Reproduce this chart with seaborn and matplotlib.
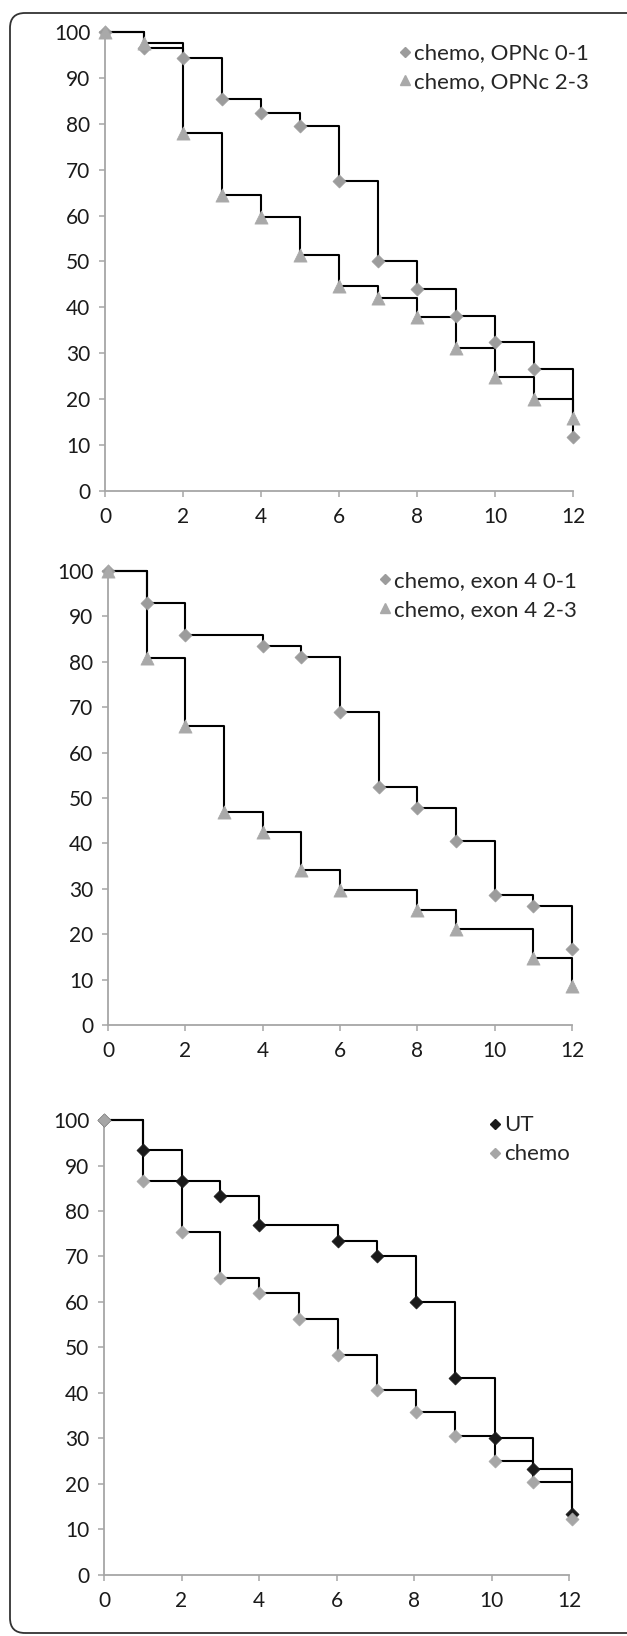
import pandas as pd
import seaborn as sns
import matplotlib.pyplot as plt
from matplotlib.lines import Line2D
from matplotlib.patches import FancyBboxPatch

# panel 1: OPNc
opn_t = [0, 1, 2, 3, 4, 5, 6, 7, 8, 9, 10, 11, 12]
opn_low = [100, 96.6, 94.3, 85.3, 82.4, 79.4, 67.6, 50.0, 44.1, 38.2, 32.4, 26.5, 11.8]
opn_high = [100, 97.6, 78.0, 64.4, 59.6, 51.3, 44.6, 42.0, 37.8, 31.1, 24.8, 20.1, 15.8]

# panel 2: exon 4
exon_low_t = [0, 1, 2, 4, 5, 6, 7, 8, 9, 10, 11, 12]
exon_low = [100, 92.9, 85.8, 83.4, 81.0, 69.0, 52.4, 47.7, 40.5, 28.7, 26.2, 16.7]
exon_high_t = [0, 1, 2, 3, 4, 5, 6, 8, 9, 11, 12]
exon_high = [100, 80.8, 65.9, 47.0, 42.4, 34.1, 29.7, 25.4, 21.1, 14.8, 8.5]

# panel 3: UT vs chemo
ut_t = [0, 1, 2, 3, 4.01, 6.03, 7.05, 8.06, 9.06, 10.08, 11.08, 12.09]
ut = [100, 93.3, 86.7, 83.3, 76.9, 73.4, 70.0, 60.1, 43.4, 30.1, 23.4, 13.3]
chemo_t = [0, 1, 2, 3, 4.01, 5.02, 6.03, 7.05, 8.06, 9.06, 10.08, 11.08, 12.09]
chemo = [100, 86.7, 75.4, 65.3, 61.9, 56.3, 48.4, 40.7, 35.8, 30.5, 25.0, 20.4, 12.4]

x_ticks = [0, 2, 4, 6, 8, 10, 12]
y_ticks = list(range(0, 101, 10))


def make_df(series):
    rows = []
    for name, t, v in series:
        for a, b in zip(t, v):
            rows.append({"month": a, "pct": b, "group": name})
    return pd.DataFrame(rows)


panels = [
    {
        "rect": [0.1675, 0.6999, 0.7464, 0.2806],
        "series": [("chemo, OPNc 0-1", opn_t, opn_low), ("chemo, OPNc 2-3", opn_t, opn_high)],
        "markers": ["D", "^"],
        "colors": ["#9c9c9c", "#a9a9a9"],
        "legend_at": (0.629, 0.975),
    },
    {
        "rect": [0.1722, 0.3735, 0.7400, 0.2775],
        "series": [("chemo, exon 4 0-1", exon_low_t, exon_low), ("chemo, exon 4 2-3", exon_high_t, exon_high)],
        "markers": ["D", "^"],
        "colors": ["#9c9c9c", "#a9a9a9"],
        "legend_at": (0.585, 1.0),
    },
    {
        "rect": [0.1659, 0.0373, 0.7416, 0.2781],
        "series": [("UT", ut_t, ut), ("chemo", chemo_t, chemo)],
        "markers": ["D", "D"],
        "colors": ["#1a1a1a", "#a6a6a6"],
        "legend_at": (0.829, 1.01),
    },
]

sns.set_theme(style="ticks")
plt.rcParams["font.family"] = ["Lato", "DejaVu Sans"]

fig = plt.figure(figsize=(6.27, 16.36), dpi=100)

for p in panels:
    ax = fig.add_axes(p["rect"])
    df = make_df(p["series"])
    names = [s[0] for s in p["series"]]

    # step lines (black)
    sns.lineplot(data=df, x="month", y="pct", units="group", estimator=None,
                 drawstyle="steps-post", color="black", lw=1.5, ax=ax,
                 zorder=2, clip_on=False)

    # markers
    sizes = {"D": 44, "^": 90}
    for name, mk, col in zip(names, p["markers"], p["colors"]):
        sub = df[df["group"] == name]
        sns.scatterplot(data=sub, x="month", y="pct", marker=mk, s=sizes[mk],
                        color=col, edgecolor=col, linewidth=0.5, ax=ax,
                        zorder=3, clip_on=False, legend=False)

    ax.set_xlim(0, 12)
    ax.set_ylim(0, 100)
    ax.set_xticks(x_ticks)
    ax.set_yticks(y_ticks)
    ax.set_xlabel("")
    ax.set_ylabel("")
    sns.despine(ax=ax)
    for sp in ["left", "bottom"]:
        ax.spines[sp].set_color("#a6a6a6")
        ax.spines[sp].set_linewidth(1.3)
    ax.tick_params(axis="both", colors="#a6a6a6", length=4.5, width=1.1,
                   labelcolor="#1a1a1a", labelsize=15)
    ax.tick_params(axis="y", pad=6)
    ax.tick_params(axis="x", pad=7)

    handles = [Line2D([], [], marker=mk, linestyle="none", color=col,
                      markersize=(4.6 if mk == "D" else 7))
               for mk, col in zip(p["markers"], p["colors"])]
    ax.legend(handles, names, loc="upper left", bbox_to_anchor=p["legend_at"],
              frameon=False, fontsize=16, handlelength=0.5, handletextpad=0.15,
              borderpad=0, borderaxespad=0, labelspacing=0.4)

# rounded outer frame
frame = FancyBboxPatch((0.1, 0.03), 6.5, 16.2,
                       boxstyle="round,pad=0,rounding_size=0.15",
                       transform=fig.dpi_scale_trans, fill=False,
                       edgecolor="#333333", linewidth=1.3)
fig.add_artist(frame)

fig.savefig("out.png", dpi=100)
